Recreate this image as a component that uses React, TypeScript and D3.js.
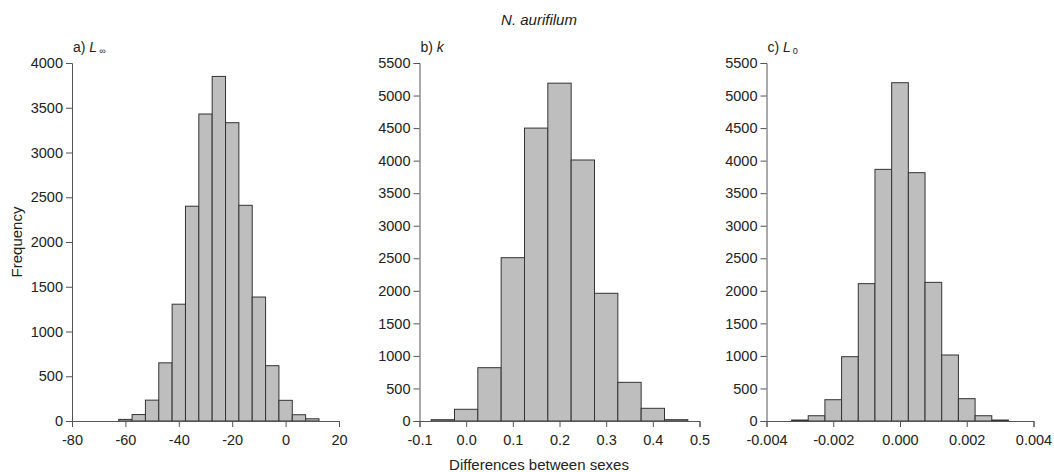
import React, { useEffect, useRef } from 'react';
import * as d3 from 'd3';

// bin centres and counts
const linfCentres = [-60, -55, -50, -45, -40, -35, -30, -25, -20, -15, -10, -5, 0, 5, 10];
const linfCounts = [18, 72, 233, 650, 1305, 2400, 3430, 3850, 3333, 2410, 1385, 618, 231, 70, 25];

const kCentres = [-0.05, 0, 0.05, 0.1, 0.15, 0.2, 0.25, 0.3, 0.35, 0.4, 0.45];
const kCounts = [20, 180, 819, 2509, 4500, 5190, 4010, 1962, 594, 195, 20];

const l0Centres = [-0.003, -0.0025, -0.002, -0.0015, -0.001, -0.0005, 0, 0.0005, 0.001, 0.0015, 0.002, 0.0025, 0.003];
const l0Counts = [15, 81, 327, 988, 2110, 3866, 5197, 3815, 2130, 1014, 343, 81, 15];

const linfTicks = [-80, -60, -40, -20, 0, 20];
const kTicks = [-0.1, 0, 0.1, 0.2, 0.3, 0.4, 0.5];
const l0Ticks = [-0.004, -0.002, 0, 0.002, 0.004];

const hyphen = (f: (n: number) => string) => (d: any) => f(d).replace('−', '-');

const panels = [
  { label: 'a) ', sym: 'L', sub: '∞', centres: linfCentres, counts: linfCounts, binWidth: 5,
    xDomain: [-80, 20], xTicks: linfTicks, fmt: hyphen(d3.format('d')), yMax: 4000, left: 72, right: 339 },
  { label: 'b) ', sym: 'k', sub: '', centres: kCentres, counts: kCounts, binWidth: 0.05,
    xDomain: [-0.1, 0.5], xTicks: kTicks, fmt: hyphen(d3.format('.1f')), yMax: 5500, left: 419.5, right: 699.5 },
  { label: 'c) ', sym: 'L', sub: '0', centres: l0Centres, counts: l0Counts, binWidth: 0.0005,
    xDomain: [-0.004, 0.004], xTicks: l0Ticks, fmt: hyphen(d3.format('.3f')), yMax: 5500, left: 766.5, right: 1033.5 },
];

export default function App() {
  const ref = useRef<SVGSVGElement>(null);

  useEffect(() => {
    const svg = d3.select(ref.current);
    svg.selectAll('*').remove();

    const top = 63;
    const bottom = 421;
    const font = 'Liberation Sans, Arial, sans-serif';
    const axisColor = '#555';

    panels.forEach(p => {
      const x = d3.scaleLinear().domain(p.xDomain).range([p.left, p.right]);
      const y = d3.scaleLinear().domain([0, p.yMax]).range([bottom, top]);
      const g = svg.append('g');

      g.selectAll('rect.bar')
        .data(p.centres)
        .enter()
        .append('rect')
        .attr('x', d => x(d - p.binWidth / 2))
        .attr('width', d => x(d + p.binWidth / 2) - x(d - p.binWidth / 2))
        .attr('y', (d, i) => y(p.counts[i]))
        .attr('height', (d, i) => y(0) - y(p.counts[i]))
        .attr('fill', '#bebebe')
        .attr('stroke', '#333')
        .attr('stroke-width', 1);

      // x axis
      const xAxis = g.append('g')
        .attr('transform', `translate(0,${bottom})`)
        .call(d3.axisBottom(x).tickValues(p.xTicks).tickFormat(p.fmt).tickSizeOuter(0).tickSize(6).tickPadding(8));
      // y axis
      const yAxis = g.append('g')
        .attr('transform', `translate(${p.left},0)`)
        .call(d3.axisLeft(y).tickValues(d3.range(0, p.yMax + 1, 500)).tickFormat(d3.format('d') as any)
          .tickSizeOuter(0).tickSize(6).tickPadding(3));

      [xAxis, yAxis].forEach(a => {
        a.selectAll('path').attr('stroke', axisColor);
        a.selectAll('line').attr('stroke', axisColor);
        a.selectAll('text').attr('fill', '#222').style('font-size', '14.5px').style('font-family', font);
      });

      const t = g.append('text')
        .attr('x', p.left + 1)
        .attr('y', 52)
        .style('font-family', font)
        .style('font-size', '14px')
        .attr('fill', '#222');
      t.append('tspan').text(p.label);
      t.append('tspan').style('font-style', 'italic').text(p.sym);
      if (p.sub) {
        t.append('tspan').attr('dy', 2).attr('dx', 2).style('font-size', '9px').text(p.sub);
      }
    });

    svg.append('text')
      .attr('x', 539)
      .attr('y', 25)
      .attr('text-anchor', 'middle')
      .style('font-family', font)
      .style('font-size', '15px')
      .style('font-style', 'italic')
      .attr('fill', '#222')
      .text('N. aurifilum');

    svg.append('text')
      .attr('x', 539)
      .attr('y', 470)
      .attr('text-anchor', 'middle')
      .style('font-family', font)
      .style('font-size', '15px')
      .attr('fill', '#222')
      .text('Differences between sexes');

    svg.append('text')
      .attr('transform', 'translate(22,242) rotate(-90)')
      .attr('text-anchor', 'middle')
      .style('font-family', font)
      .style('font-size', '15px')
      .attr('fill', '#222')
      .text('Frequency');
  }, []);

  return (
    <svg
      ref={ref}
      width={1054}
      height={472}
      style={{ position: 'absolute', left: 0, top: 0, background: '#fff' }}
    />
  );
}
